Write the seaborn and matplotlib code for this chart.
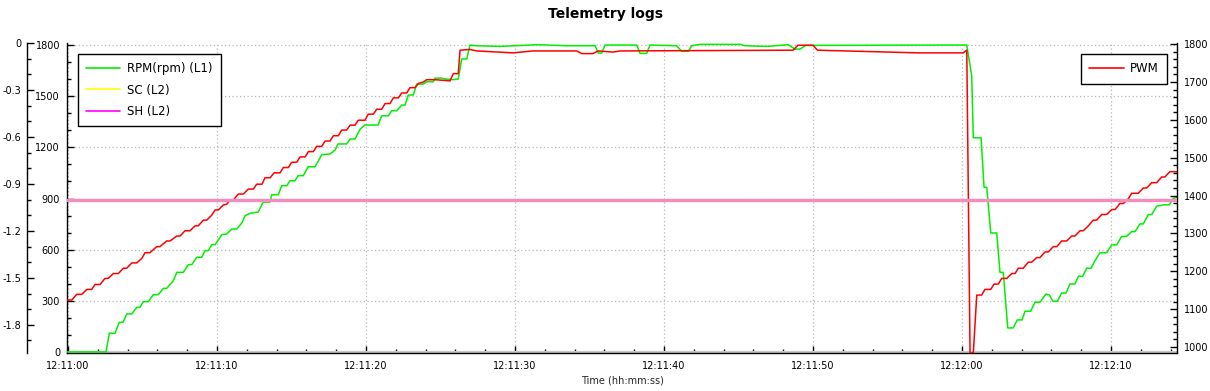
import matplotlib
matplotlib.use('Agg')
import matplotlib.pyplot as plt
import matplotlib.dates as mdates
import matplotlib.ticker as mticker
from matplotlib.lines import Line2D
import pandas as pd
import seaborn as sns

START = pd.Timestamp('2024-01-01 12:11:00')
T_MIN, T_MAX = -0.07, 74.43

# (seconds after 12:11:00, value)
rpm_points = [
    (-0.07, 0), (2.55, 0), (2.77, 110), (3.15, 110), (3.44, 174), (3.69, 174),
    (3.94, 223), (4.28, 223), (4.61, 262), (4.83, 262), (5.05, 295), (5.39, 295),
    (5.72, 336), (6.06, 336), (6.40, 373), (6.62, 373), (7.07, 418), (7.30, 467),
    (7.74, 467), (8.07, 512), (8.30, 512), (8.64, 555), (8.97, 555), (9.19, 594),
    (9.42, 594), (9.64, 629), (9.87, 629), (10.32, 688), (10.65, 692), (10.99, 721),
    (11.32, 721), (11.66, 756), (11.88, 799), (12.21, 813), (12.77, 821), (13.09, 879),
    (13.56, 879), (13.67, 922), (14.11, 922), (14.34, 975), (14.68, 975), (14.90, 1004),
    (15.23, 1004), (15.44, 1034), (15.79, 1034), (16.11, 1086), (16.58, 1086),
    (17.03, 1157), (17.58, 1161), (17.92, 1184), (18.12, 1220), (18.70, 1220),
    (18.93, 1249), (19.26, 1249), (19.60, 1307), (19.93, 1331), (20.81, 1331),
    (21.05, 1385), (21.50, 1385), (21.72, 1415), (22.06, 1415), (22.40, 1448),
    (22.62, 1448), (22.84, 1507), (23.17, 1507), (23.40, 1571), (23.85, 1571),
    (24.07, 1585), (24.52, 1585), (24.63, 1606), (25.08, 1606), (25.30, 1601),
    (25.86, 1597), (26.19, 1601), (26.42, 1718), (26.76, 1718), (26.98, 1800),
    (27.43, 1796), (28.99, 1792), (31.46, 1802), (33.47, 1796), (35.37, 1796),
    (35.59, 1753), (35.82, 1753), (36.04, 1800), (38.17, 1800), (38.39, 1751),
    (38.84, 1751), (39.06, 1800), (40.85, 1796), (41.19, 1763), (41.63, 1763),
    (41.86, 1796), (42.42, 1804), (45.10, 1804), (45.44, 1796), (46.89, 1792),
    (48.34, 1802), (48.79, 1776), (49.13, 1776), (49.50, 1798), (60.32, 1800),
    (60.65, 1620), (60.76, 1256), (61.28, 1256), (61.48, 966), (61.66, 966),
    (61.93, 698), (62.33, 698), (62.55, 467), (62.77, 467), (63.07, 141), (63.44, 141),
    (63.71, 188), (64.03, 188), (64.23, 239), (64.61, 239), (64.90, 292), (65.23, 292),
    (65.64, 340), (65.86, 334), (66.09, 298), (66.40, 297), (66.69, 346), (66.98, 346),
    (67.25, 399), (67.58, 399), (67.81, 444), (68.10, 444), (68.37, 491), (68.66, 491),
    (68.93, 536), (69.26, 582), (69.71, 582), (70.05, 628), (70.38, 628), (70.72, 678),
    (71.05, 678), (71.39, 706), (71.61, 706), (71.95, 751), (72.17, 751), (72.50, 806),
    (72.73, 806), (73.07, 855), (73.56, 863), (73.91, 863), (74.18, 901), (74.43, 907),
]

pwm_points = [
    (-0.07, 1124), (0.25, 1124), (0.58, 1139), (0.92, 1139), (1.26, 1152), (1.59, 1152),
    (1.81, 1165), (2.15, 1165), (2.48, 1181), (2.70, 1181), (3.04, 1194), (3.38, 1194),
    (3.71, 1208), (3.94, 1208), (4.28, 1222), (4.61, 1222), (4.95, 1234), (5.17, 1249),
    (5.50, 1249), (5.95, 1265), (6.17, 1265), (6.62, 1280), (6.85, 1280), (7.30, 1293),
    (7.52, 1293), (7.85, 1307), (8.19, 1307), (8.52, 1320), (8.74, 1320), (9.08, 1335),
    (9.31, 1335), (9.64, 1348), (9.87, 1362), (10.09, 1362), (10.42, 1375), (10.65, 1377),
    (10.87, 1388), (11.09, 1388), (11.43, 1404), (11.77, 1404), (12.10, 1417),
    (12.44, 1417), (12.66, 1430), (13.02, 1430), (13.22, 1447), (13.56, 1447),
    (13.83, 1460), (14.23, 1460), (14.45, 1474), (14.79, 1474), (15.01, 1488),
    (15.35, 1488), (15.57, 1502), (15.91, 1502), (16.13, 1516), (16.46, 1516),
    (16.69, 1530), (17.03, 1530), (17.25, 1544), (17.58, 1544), (17.81, 1558),
    (18.14, 1558), (18.37, 1573), (18.70, 1573), (18.93, 1586), (19.26, 1586),
    (19.48, 1599), (19.93, 1599), (20.15, 1615), (20.49, 1615), (20.72, 1628),
    (21.05, 1628), (21.28, 1643), (21.61, 1643), (21.83, 1658), (22.17, 1658),
    (22.40, 1671), (22.73, 1671), (22.95, 1685), (23.29, 1685), (23.51, 1696),
    (23.85, 1700), (24.07, 1706), (24.63, 1706), (25.64, 1703), (25.86, 1722),
    (26.19, 1722), (26.31, 1784), (26.98, 1786), (27.43, 1782), (29.87, 1777),
    (31.21, 1782), (34.14, 1782), (34.48, 1775), (35.23, 1775), (35.57, 1782),
    (36.58, 1779), (37.05, 1782), (48.66, 1784), (48.99, 1797), (50.00, 1797),
    (50.30, 1784), (57.00, 1777), (60.08, 1777), (60.32, 1784), (60.54, 984),
    (60.76, 984), (60.99, 1137), (61.32, 1137), (61.54, 1152), (61.93, 1152),
    (62.15, 1166), (62.44, 1166), (62.66, 1181), (63.00, 1181), (63.34, 1194),
    (63.56, 1194), (63.78, 1208), (64.11, 1208), (64.45, 1224), (64.68, 1224),
    (65.01, 1236), (65.23, 1236), (65.57, 1251), (65.79, 1251), (66.13, 1265),
    (66.36, 1265), (66.69, 1280), (67.03, 1280), (67.36, 1293), (67.58, 1293),
    (67.92, 1307), (68.14, 1307), (68.48, 1320), (68.81, 1335), (69.04, 1335),
    (69.38, 1350), (69.71, 1350), (70.05, 1363), (70.27, 1363), (70.60, 1379),
    (70.83, 1379), (71.17, 1392), (71.39, 1406), (71.83, 1406), (72.17, 1420),
    (72.40, 1420), (72.73, 1434), (73.07, 1434), (73.40, 1449), (73.62, 1449),
    (73.95, 1463), (74.43, 1463),
]

sc_points = [(T_MIN, -1.0), (T_MAX, -1.0)]
sh_points = [(T_MIN, -1.0), (T_MAX, -1.0)]

legend_left = ['RPM(rpm) (L1)', 'SC (L2)', 'SH (L2)']
legend_right = ['PWM']

GREEN = '#00f000'
RED = '#ff0000'
YELLOW = '#ffff00'
MAGENTA = '#ff00ff'


def to_frame(points, name):
    df = pd.DataFrame(points, columns=['sec', name])
    df['time'] = START + pd.to_timedelta(df['sec'], unit='s')
    return df


def style_axis(axis, visible):
    for side, spine in axis.spines.items():
        spine.set_visible(side in visible)
        spine.set_color('black')
        spine.set_linewidth(1.0)


def l2_fmt(v, pos):
    if abs(v) < 1e-9:
        return '0'
    return f'{round(v, 1):g}'


def main():
    sns.set_theme(style='white')
    plt.rcParams['font.family'] = ['DejaVu Sans']

    rpm_df = to_frame(rpm_points, 'rpm')
    pwm_df = to_frame(pwm_points, 'pwm')
    sc_df = to_frame(sc_points, 'sc')
    sh_df = to_frame(sh_points, 'sh')

    fig = plt.figure(figsize=(12.1, 3.91), dpi=100)
    ax = fig.add_axes([67 / 1210, 38 / 391, 1110 / 1210, 310 / 391])
    ax_pwm = ax.twinx()
    ax_l2 = ax.twinx()
    ax.set_facecolor('white')

    ax.axhline(0, color='#c8c8c8', lw=1.6, zorder=1)
    sns.lineplot(data=rpm_df, x='time', y='rpm', ax=ax, color=GREEN, linewidth=1.1,
                 estimator=None, sort=False, legend=False, zorder=3)
    sns.lineplot(data=pwm_df, x='time', y='pwm', ax=ax_pwm, color=RED, linewidth=1.1,
                 estimator=None, sort=False, legend=False)
    sns.lineplot(data=sc_df, x='time', y='sc', ax=ax_l2, color=YELLOW, linewidth=1.5,
                 estimator=None, sort=False, legend=False)
    sns.lineplot(data=sh_df, x='time', y='sh', ax=ax_l2, color='#f58cc0', linewidth=2.4,
                 estimator=None, sort=False, legend=False)

    ax.set_xlim(START + pd.Timedelta(seconds=T_MIN), START + pd.Timedelta(seconds=T_MAX))
    ax.set_ylim(-6, 1812)
    ax_pwm.set_ylim(984, 1803)
    ax_l2.set_ylim(-1.98, 0)

    # x axis
    ax.xaxis.set_major_locator(mdates.SecondLocator(bysecond=range(0, 60, 10)))
    ax.xaxis.set_minor_locator(mdates.SecondLocator(bysecond=range(0, 60, 2)))
    ax.xaxis.set_major_formatter(mdates.DateFormatter('%H:%M:%S'))
    ax.set_xlabel('Time (hh:mm:ss)', fontsize=7, labelpad=3)

    # left L1 axis
    ax.yaxis.set_major_locator(mticker.MultipleLocator(300))
    ax.yaxis.set_minor_locator(mticker.MultipleLocator(100))
    ax.set_ylabel('')

    # right PWM axis
    ax_pwm.yaxis.set_major_locator(mticker.MultipleLocator(100))
    ax_pwm.yaxis.set_minor_locator(mticker.MultipleLocator(20))
    ax_pwm.set_ylabel('')

    # outer left L2 axis, 40 px left of the L1 axis
    ax_l2.yaxis.set_ticks_position('left')
    ax_l2.yaxis.set_label_position('left')
    ax_l2.spines['left'].set_position(('outward', 40 * 72 / 100))
    ax_l2.yaxis.set_major_locator(mticker.MultipleLocator(0.3))
    ax_l2.yaxis.set_minor_locator(mticker.MultipleLocator(0.1))
    ax_l2.yaxis.set_major_formatter(mticker.FuncFormatter(l2_fmt))
    ax_l2.set_ylabel('')

    style_axis(ax, ['left', 'bottom'])
    style_axis(ax_pwm, ['right'])
    style_axis(ax_l2, ['left'])

    for a in (ax, ax_pwm, ax_l2):
        a.tick_params(which='major', direction='in', length=5, width=1, color='black',
                      labelsize=7, labelcolor='black')
        a.tick_params(which='minor', direction='in', length=3, width=1, color='black')
    ax.tick_params(axis='x', which='both', bottom=True, pad=6)
    ax.tick_params(axis='y', which='both', left=True, pad=5)
    ax_pwm.tick_params(axis='y', which='both', right=True, pad=5)
    ax_l2.tick_params(axis='y', which='both', left=True, pad=4)

    ax.grid(True, which='major', color='#b8b8b8', linestyle=(0, (1, 2)), linewidth=0.9)

    # legends on the top-most axis
    kw = dict(frameon=True, fancybox=False, edgecolor='black', framealpha=1,
              fontsize=8.5, handlelength=2.9, handletextpad=0.55, borderpad=0.7,
              borderaxespad=0, labelcolor='black')
    handles = [Line2D([], [], color=c, lw=1.2) for c in (GREEN, YELLOW, MAGENTA)]
    leg1 = ax_l2.legend(handles, legend_left, loc='upper left',
                        bbox_to_anchor=(0.0099, 0.9645), labelspacing=0.7, **kw)
    leg1.get_frame().set_linewidth(1.0)
    ax_l2.add_artist(leg1)
    leg2 = ax_l2.legend([Line2D([], [], color=RED, lw=1.2)], legend_right, loc='upper right',
                        bbox_to_anchor=(0.991, 0.9645), **kw)
    leg2.get_frame().set_linewidth(1.0)

    fig.suptitle('Telemetry logs', y=1 - 14 / 391, va='center', fontsize=10,
                 fontweight='bold', color='black')

    fig.savefig('out.png', dpi=100, facecolor='white')


if __name__ == '__main__':
    main()
